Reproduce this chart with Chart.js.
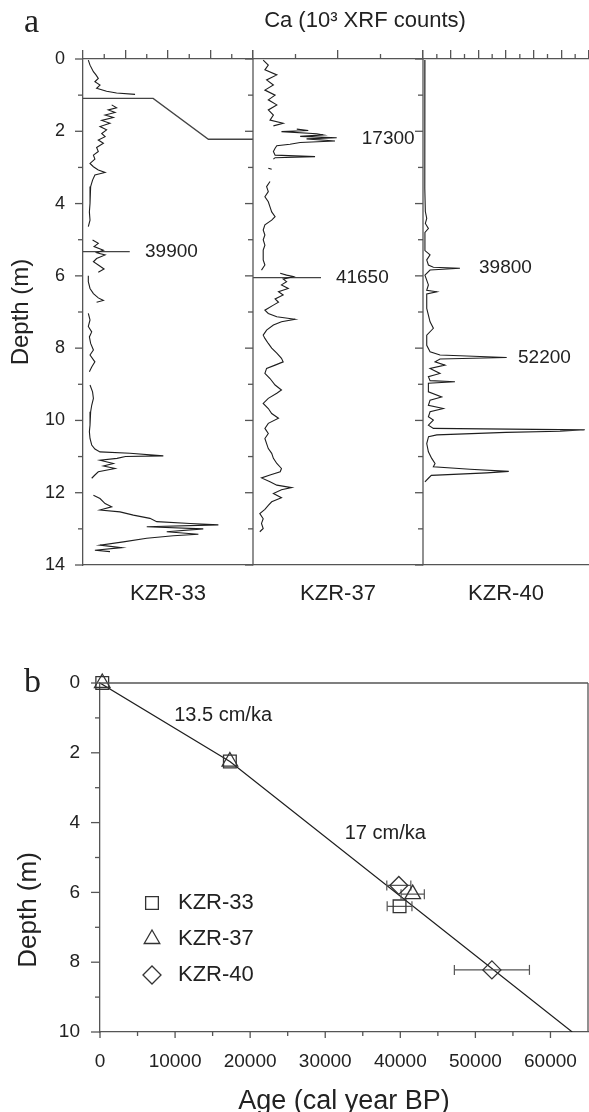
<!DOCTYPE html>
<html>
<head>
<meta charset="utf-8">
<script src="https://cdn.jsdelivr.net/npm/chart.js@4.4.0/dist/chart.umd.min.js"></script>
<style>
  html, body { margin: 0; padding: 0; background: #fff; overflow: hidden; }
  #wrap { position: relative; width: 589px; height: 1112px; }
  canvas { position: absolute; left: 0; }
  #coreChart { top: 0; }
  #ageChart { top: 620px; }
</style>
</head>
<body>
<div id="wrap">
  <canvas id="coreChart" width="589" height="620"></canvas>
  <canvas id="ageChart" width="589" height="500"></canvas>
</div>
<script>
// ---- panel a: Ca logs, depth (m) vs counts; null = gap between core sections
const depth33 = [0.03, 0.17, 0.35, 0.44, 0.54, 0.63, 0.72, 0.81, 0.89, 0.94, 0.98, 1.1,
  1.27, 1.35, 1.41, 1.48, 1.55, 1.62, 1.70, 1.78, 1.87, 1.96, 2.06, 2.15, 2.24, 2.33, 2.45, 2.56,
  2.66, 2.77, 2.89, 2.98, 3.07, 3.14, 3.21, 3.35, 3.53, 3.76, 4.00, 4.23, 4.46, 4.64, 4.8,
  5.01, 5.10, 5.19, 5.29, 5.36, 5.42, 5.52, 5.61, 5.70, 5.81, 5.90, 5.95,
  6.00, 6.16, 6.35, 6.49, 6.61, 6.68, 6.73, 6.9,
  7.04, 7.22, 7.40, 7.55, 7.69, 7.87, 8.05, 8.19, 8.38, 8.52, 8.65, 8.8,
  9.02, 9.21, 9.39, 9.58, 9.76, 9.94, 10.13, 10.31, 10.50, 10.68, 10.79, 10.87, 10.91, 10.98,
  11.00, 11.05, 11.10, 11.19, 11.26, 11.33, 11.42, 11.51, 11.60, 11.8,
  12.07, 12.16, 12.30, 12.39, 12.48, 12.53, 12.62, 12.71, 12.80, 12.85, 12.89, 12.94, 13.00,
  13.08, 13.15, 13.19, 13.26, 13.36, 13.45, 13.52, 13.59, 13.63];
const ca33 = [0.25, 0.33, 0.49, 0.61, 0.72, 0.56, 0.80, 0.64, 1.11, 1.58, 2.45, null,
  1.35, 1.58, 1.19, 1.51, 1.04, 1.43, 0.88, 1.27, 0.80, 1.11, 0.88, 1.04, 0.72, 0.96, 0.64, 0.72,
  0.49, 0.56, 0.33, 0.49, 0.72, 1.04, 0.56, 0.45, 0.36, 0.33, 0.33, 0.30, 0.33, 0.25, null,
  0.45, 0.72, 0.52, 0.96, 0.64, 1.04, 0.64, 0.49, 0.72, 0.99, 0.72, null,
  0.25, 0.25, 0.33, 0.49, 0.72, 0.96, 0.64, null,
  0.25, 0.33, 0.25, 0.41, 0.30, 0.36, 0.49, 0.33, 0.56, 0.41, 0.30, null,
  0.33, 0.45, 0.49, 0.41, 0.36, 0.33, 0.33, 0.30, 0.33, 0.41, 0.56, 0.80, 2.21, 3.78,
  2.00, 1.60, 0.80, 1.43, 0.96, 1.51, 0.72, 0.56, 0.41, null,
  0.49, 0.80, 1.04, 1.35, 0.80, 1.74, 2.37, 3.15, 3.47, 5.04, 6.37, 3.00, 5.66,
  3.94, 5.43, 4.25, 3.00, 1.90, 0.80, 1.82, 0.56, 1.27];

const depth37 = [0.03, 0.17, 0.30, 0.44, 0.58, 0.72, 0.86, 1.00, 1.13, 1.27, 1.41, 1.55, 1.69, 1.78, 1.85, 1.9,
  1.94, 1.98, 2.01, 2.07, 2.10, 2.14, 2.18, 2.21, 2.27, 2.31, 2.36, 2.40, 2.47, 2.56, 2.66, 2.70, 2.73, 2.77, 2.9,
  3.02, 3.05, 3.2,
  3.39, 3.53, 3.67, 3.81, 3.95, 4.09, 4.23, 4.36, 4.46, 4.59, 4.73, 4.87, 5.00, 5.15, 5.29, 5.42, 5.56, 5.70, 5.84, 5.88,
  5.93, 5.98, 6.02, 6.09, 6.16, 6.25, 6.35, 6.44, 6.53, 6.64, 6.73, 6.81, 6.95, 7.04, 7.13, 7.20, 7.27, 7.36,
  7.50, 7.64, 7.73, 7.87, 8.00, 8.14, 8.28, 8.38, 8.47, 8.56, 8.70, 8.84, 9.02, 9.16, 9.25, 9.39, 9.53, 9.67,
  9.81, 9.94, 10.08, 10.22, 10.36, 10.50, 10.64, 10.78, 10.91, 11.05, 11.19, 11.33, 11.42, 11.51, 11.59, 11.70,
  11.79, 11.86, 11.92, 12.02, 12.14, 12.25, 12.35, 12.46, 12.58, 12.72, 12.85, 12.99, 13.08];
const ca37 = [0.24, 0.36, 0.28, 0.56, 0.32, 0.48, 0.28, 0.52, 0.36, 0.56, 0.36, 0.48, 0.40, 0.71, 0.48, null,
  1.03, 1.30, 0.67, 1.50, 1.65, 1.11, 1.97, 1.26, 1.93, 1.11, 0.87, 0.56, 0.52, 0.48, 0.52, 1.46, 0.52, 0.48, null,
  0.36, 0.44, null,
  0.40, 0.32, 0.36, 0.28, 0.36, 0.40, 0.44, 0.52, 0.44, 0.28, 0.24, 0.28, 0.24, 0.28, 0.24, 0.24, 0.24, 0.28, 0.20, null,
  0.64, 0.79, 0.95, 0.71, 0.79, 0.67, 0.83, 0.60, 0.71, 0.52, 0.60, 0.48, 0.28, 0.36, 0.56, 0.99, 0.67, 0.48,
  0.32, 0.24, 0.28, 0.36, 0.44, 0.56, 0.67, 0.71, 0.52, 0.32, 0.28, 0.40, 0.52, 0.67, 0.56, 0.36, 0.24, 0.36,
  0.44, 0.60, 0.36, 0.28, 0.36, 0.28, 0.32, 0.36, 0.44, 0.48, 0.56, 0.67, 0.64, 0.40, 0.20, 0.40,
  0.56, 0.91, 0.67, 0.48, 0.67, 0.44, 0.36, 0.28, 0.16, 0.24, 0.20, 0.24, 0.16];

const depth40 = [0.03, 1.73, 3.58, 4.22, 4.41, 4.55, 4.69, 4.80, 5.30, 5.42, 5.56, 5.70, 5.76, 5.79, 5.84, 5.98,
  6.25, 6.40, 6.44, 6.50, 6.90, 7.27, 7.45, 7.64, 7.92, 8.10, 8.19, 8.26, 8.30, 8.38, 8.47, 8.56, 8.70, 8.79,
  8.90, 8.93, 8.97, 9.21, 9.35, 9.44, 9.58, 9.67, 9.76, 9.90, 9.99, 10.13, 10.22, 10.26, 10.30, 10.33, 10.40,
  10.45, 10.64, 10.87, 11.05, 11.19, 11.28, 11.35, 11.41, 11.45, 11.52, 11.60, 11.70];
const ca40 = [0.14, 0.14, 0.12, 0.17, 0.27, 0.17, 0.39, 0.14, 0.14, 0.51, 0.27, 0.39, 0.75, 2.67, 0.51, 0.14,
  0.39, 0.27, 0.99, 0.27, 0.27, 0.51, 0.75, 0.27, 0.27, 0.51, 1.23, 6.05, 1.23, 0.87, 1.59, 0.51, 1.23, 0.39,
  0.51, 2.31, 0.39, 0.39, 1.35, 0.51, 0.39, 1.47, 0.51, 0.39, 0.75, 0.39, 0.75, 11.7, 9.90, 6.00, 1.00,
  0.40, 0.27, 0.39, 0.63, 0.87, 0.75, 3.40, 6.20, 4.60, 0.60, 0.39, 0.14];

// radiocarbon tie points shown on the logs
const tieAges = [17300, 39900, 41650, 39800, 52200];
const tieDepths = [2.22, 5.33, 6.05, 5.78, 8.27];
const coreNames = ['KZR-33', 'KZR-37', 'KZR-40'];

// ---- panel b: age-depth model
const ages33 = [300, 17300, 39900];
const depths33 = [0, 2.25, 6.4];
const ageErr33 = [0, 0, 1650];
const ages37 = [300, 17300, 41650];
const depths37 = [0, 2.25, 6.05];
const ageErr37 = [0, 0, 1550];
const ages40 = [39800, 52200];
const depths40 = [5.8, 8.22];
const ageErr40 = [1600, 5000];
const fitAges = [0, 17300, 62900];
const fitDepths = [0, 2.25, 10];
const rateLabels = ['13.5 cm/ka', '17 cm/ka'];
const ageTicks = [0, 10000, 20000, 30000, 40000, 50000, 60000];

const axisColor = '#555';
const inkColor = '#1e1e1e';
const textColor = '#222';
const sans = '"Liberation Sans", Arial, sans-serif';
const serif = '"Liberation Serif", "Times New Roman", serif';

Chart.defaults.font.family = sans;
Chart.defaults.color = textColor;

function logPoints(depths, values) {
  return depths.map((d, i) => ({ x: values[i], y: d }));
}
function agePoints(ages, depths) {
  return ages.map((a, i) => ({ x: a, y: depths[i] }));
}
function line(ctx, x1, y1, x2, y2) {
  ctx.beginPath();
  ctx.moveTo(x1, y1);
  ctx.lineTo(x2, y2);
  ctx.stroke();
}

// tie lines, in count units of the KZR-33 and KZR-37 tracks
const tieLine33 = [
  { x: 0, y: tieDepths[0] - 1.13 }, { x: 3.3, y: tieDepths[0] - 1.13 },
  { x: 5.9, y: tieDepths[0] }, { x: 12.7, y: tieDepths[0] },
  { x: null, y: 3 },
  { x: 0, y: tieDepths[1] }, { x: 2.2, y: tieDepths[1] }
];
const tieLine37 = [{ x: 0, y: tieDepths[2] }, { x: 1.6, y: tieDepths[2] }];

const tieLabelScale = ['x2', 'x1', 'x2', 'x3', 'x3'];
const tieLabelX = [2.56, 2.92, 1.95, 4.05, 6.87];

// top axes share one row; weight keeps KZR-33 on the left
function topAxis(max, share, order) {
  return {
    type: 'linear', position: 'top', stack: 'counts', stackWeight: share, weight: order,
    min: 0, max: max,
    ticks: { display: false, stepSize: 2, includeBounds: false },
    grid: { drawOnChartArea: false, tickLength: 9, color: axisColor, lineWidth: 1.3 },
    border: { display: true, color: axisColor, width: 1.3 },
    afterFit(s) { s.height = 59; }
  };
}
function bottomAxis(name, share) {
  return {
    type: 'linear', axis: 'x', position: 'bottom', stack: 'names', stackWeight: share,
    min: 0, max: 1,
    ticks: { display: false },
    grid: { display: false, drawTicks: false },
    border: { display: true, color: axisColor, width: 1.3 },
    title: { display: true, text: name, color: textColor, font: { size: 22 }, padding: { top: 0, bottom: 13 } },
    afterFit(s) { s.height = 55; }
  };
}

const coreDecor = {
  id: 'coreDecor',
  afterDraw(chart) {
    const { ctx, chartArea, scales } = chart;
    const y = scales.y;
    ctx.save();
    ctx.strokeStyle = axisColor;
    ctx.lineWidth = 1.3;
    ['x2', 'x3'].forEach(id => {
      const x = scales[id].getPixelForValue(0);
      line(ctx, x, chartArea.top, x, chartArea.bottom);
    });
    ['x1', 'x2', 'x3'].forEach(id => {
      const x0 = scales[id].getPixelForValue(0);
      for (let d = 0; d <= 14; d++) {
        const py = y.getPixelForValue(d);
        line(ctx, x0 - (d % 2 ? 5 : 8), py, x0, py);
      }
      const s = scales[id];
      for (let v = 1; v < s.max; v += 2) {
        const px = s.getPixelForValue(v);
        line(ctx, px, chartArea.top - 5, px, chartArea.top);
      }
    });

    ctx.fillStyle = textColor;
    ctx.textBaseline = 'alphabetic';
    ctx.textAlign = 'left';
    ctx.font = '34px ' + serif;
    ctx.fillText('a', 24, 32);

    ctx.textBaseline = 'middle';
    ctx.textAlign = 'center';
    ctx.font = '22px ' + sans;
    ctx.fillText('Ca (10³ XRF counts)', 365, 21);

    ctx.textAlign = 'left';
    ctx.font = '19px ' + sans;
    tieAges.forEach((age, i) => {
      const s = scales[tieLabelScale[i]];
      ctx.fillText(String(age), s.getPixelForValue(tieLabelX[i]), y.getPixelForValue(tieDepths[i]));
    });
    ctx.restore();
  }
};

const logStyle = { borderColor: inkColor, borderWidth: 1.1, pointRadius: 0, tension: 0 };
const tieStyle = { borderColor: '#444', borderWidth: 1.3, pointRadius: 0, tension: 0 };

new Chart(document.getElementById('coreChart'), {
  type: 'line',
  data: {
    datasets: [
      Object.assign({ label: coreNames[0], data: logPoints(depth33, ca33), xAxisID: 'x1', yAxisID: 'y' }, logStyle),
      Object.assign({ label: coreNames[1], data: logPoints(depth37, ca37), xAxisID: 'x2', yAxisID: 'y' }, logStyle),
      Object.assign({ label: coreNames[2], data: logPoints(depth40, ca40), xAxisID: 'x3', yAxisID: 'y' }, logStyle),
      Object.assign({ label: 'tie 33', data: tieLine33, xAxisID: 'x1', yAxisID: 'y' }, tieStyle),
      Object.assign({ label: 'tie 37', data: tieLine37, xAxisID: 'x2', yAxisID: 'y' }, tieStyle)
    ]
  },
  options: {
    indexAxis: 'y',
    responsive: false,
    animation: false,
    layout: { padding: 0, autoPadding: false },
    plugins: { legend: { display: false }, tooltip: { enabled: false }, colors: { enabled: false } },
    scales: {
      x1: topAxis(8, 170, 3),
      x2: topAxis(4, 170, 2),
      x3: topAxis(12, 166, 1),
      xb1: bottomAxis(coreNames[0], 170),
      xb2: bottomAxis(coreNames[1], 170),
      xb3: bottomAxis(coreNames[2], 166),
      y: {
        type: 'linear', position: 'left', reverse: true, min: 0, max: 14,
        ticks: { stepSize: 2, padding: 18, color: textColor, font: { size: 18 } },
        grid: { display: false, drawTicks: false },
        border: { display: true, color: axisColor, width: 1.3 },
        title: { display: true, text: 'Depth (m)', color: textColor, font: { size: 24 }, padding: { top: 7, bottom: 0 } },
        afterFit(s) { s.width = 83; }
      }
    }
  },
  plugins: [coreDecor]
});

// ---- panel b
const errPoints = [];
[[ages33, depths33, ageErr33], [ages37, depths37, ageErr37], [ages40, depths40, ageErr40]].forEach(([a, d, e]) => {
  a.forEach((age, i) => {
    if (!e[i]) return;
    errPoints.push({ x: age - e[i], y: d[i] }, { x: age + e[i], y: d[i] }, { x: null, y: null });
  });
});

const symbolStyle = {
  pointRadius: 9, pointBorderWidth: 1.3, pointBorderColor: '#333',
  pointBackgroundColor: 'rgba(0,0,0,0)', borderColor: '#333', showLine: false, clip: false
};

const ageDecor = {
  id: 'ageDecor',
  afterDraw(chart) {
    const { ctx, chartArea, scales } = chart;
    const { x, y } = scales;
    ctx.save();
    ctx.strokeStyle = axisColor;
    ctx.lineWidth = 1.3;
    line(ctx, chartArea.left, chartArea.top, chartArea.right, chartArea.top);
    line(ctx, chartArea.right, chartArea.top, chartArea.right, chartArea.bottom);
    for (let d = 0; d <= 10; d++) {
      const py = y.getPixelForValue(d);
      line(ctx, chartArea.left - (d % 2 ? 5 : 9), py, chartArea.left, py);
    }
    for (let a = 0; a <= 60000; a += 5000) {
      const px = x.getPixelForValue(a);
      line(ctx, px, chartArea.bottom, px, chartArea.bottom + (a % 10000 ? 4 : 6));
    }

    ctx.fillStyle = textColor;
    ctx.textAlign = 'left';
    ctx.textBaseline = 'alphabetic';
    ctx.font = '34px ' + serif;
    ctx.fillText('b', 24, 72);

    ctx.textAlign = 'center';
    ctx.textBaseline = 'middle';
    ctx.font = '20px ' + sans;
    const rateAt = [[16400, 0.92], [38000, 4.3]];
    rateLabels.forEach((t, i) => {
      ctx.fillText(t, x.getPixelForValue(rateAt[i][0]), y.getPixelForValue(rateAt[i][1]));
    });

    // y axis title, sits lower than the axis centre in the original
    ctx.save();
    ctx.translate(29, 290);
    ctx.rotate(-Math.PI / 2);
    ctx.font = '26px ' + sans;
    ctx.fillText('Depth (m)', 0, 0);
    ctx.restore();

    // legend inside the plot
    ctx.textAlign = 'left';
    ctx.font = '22px ' + sans;
    for (let i = 0; i < 3; i++) {
      const ds = chart.data.datasets[i];
      const ly = chartArea.top + 220 + i * 36;
      ctx.strokeStyle = '#333';
      ctx.fillStyle = 'rgba(0,0,0,0)';
      ctx.lineWidth = 1.3;
      Chart.helpers.drawPoint(ctx, { pointStyle: ds.pointStyle, radius: 9, borderWidth: 1.3, rotation: 0 }, chartArea.left + 52, ly);
      ctx.fillStyle = textColor;
      ctx.fillText(ds.label, chartArea.left + 78, ly);
    }
    ctx.restore();
  }
};

new Chart(document.getElementById('ageChart'), {
  type: 'scatter',
  data: {
    datasets: [
      Object.assign({ label: coreNames[0], data: agePoints(ages33, depths33), pointStyle: 'rect' }, symbolStyle),
      Object.assign({ label: coreNames[1], data: agePoints(ages37, depths37), pointStyle: 'triangle' }, symbolStyle),
      Object.assign({ label: coreNames[2], data: agePoints(ages40, depths40), pointStyle: 'rectRot' }, symbolStyle),
      {
        label: 'age error', data: errPoints, showLine: true, spanGaps: false,
        borderColor: '#555', borderWidth: 1.2,
        pointStyle: 'line', pointRotation: 90, pointRadius: 5,
        pointBorderColor: '#555', pointBorderWidth: 1.2
      },
      {
        label: 'sedimentation rate', data: agePoints(fitAges, fitDepths), showLine: true,
        borderColor: inkColor, borderWidth: 1.2, pointRadius: 0
      }
    ]
  },
  options: {
    responsive: false,
    animation: false,
    // no automatic padding for the marker size, the plot box runs to x = 588
    layout: { padding: { top: 63, right: 1, left: 0, bottom: 0 }, autoPadding: false },
    plugins: { legend: { display: false }, tooltip: { enabled: false }, colors: { enabled: false } },
    scales: {
      x: {
        type: 'linear', position: 'bottom', min: 0, max: 65000,
        afterBuildTicks(s) { s.ticks = ageTicks.map(v => ({ value: v })); },
        ticks: { padding: 0, maxRotation: 0, autoSkip: false, color: textColor, font: { size: 19 }, callback: v => String(v) },
        // tick marks are drawn by ageDecor; the hidden tick length only spaces the labels
        grid: { display: false, drawTicks: true, tickLength: 18 },
        border: { display: true, color: axisColor, width: 1.3 },
        title: { display: true, text: 'Age (cal year BP)', color: textColor, font: { size: 27 }, padding: { top: 0, bottom: 2 } },
        afterFit(s) { s.height = 88; }
      },
      y: {
        type: 'linear', position: 'left', reverse: true, min: 0, max: 10,
        ticks: { stepSize: 2, padding: 20, color: textColor, font: { size: 19 } },
        grid: { display: false, drawTicks: false },
        border: { display: true, color: axisColor, width: 1.3 },
        afterFit(s) { s.width = 100; }
      }
    }
  },
  plugins: [ageDecor]
});
</script>
</body>
</html>
